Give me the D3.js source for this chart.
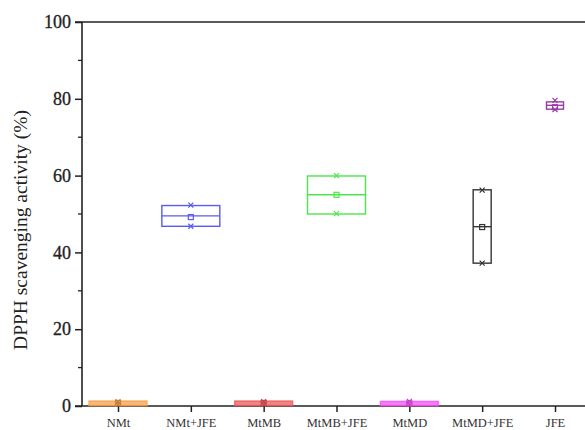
<!DOCTYPE html>
<html><head><meta charset="utf-8">
<script src="https://cdn.jsdelivr.net/npm/d3@7"></script>
<style>html,body{margin:0;padding:0;background:#fff;}svg{display:block;}</style>
</head><body>
<svg id="chart" width="585" height="430"></svg>
<script>
const categories = ["NMt","NMt+JFE","MtMB","MtMB+JFE","MtMD","MtMD+JFE","JFE"];
const q1Values     = [0.1, 46.8, 0.1, 50.0, 0.1, 37.2, 77.3];
const q3Values     = [1.3, 52.2, 1.3, 59.9, 1.2, 56.3, 79.2];
const medianValues = [0.7, 49.5, 0.7, 55.0, 0.6, 46.7, 78.3];
const meanValues   = [0.8, 49.2, 0.8, 55.0, 0.7, 46.6, 77.8];
const minValues    = [0.5, 46.8, 0.5, 50.1, 0.5, 37.2, 77.2];
const maxValues    = [1.1, 52.3, 1.1, 60.0, 1.2, 56.2, 79.6];
const yTicks = [0,20,40,60,80,100];
const yMinorTicks = [10,30,50,70,90];

// styles
const colors = ["#f5a04a","#5a5af5","#ee5a5a","#4ae84a","#f550f5","#333333","#9b3aa8"];
const boxWidths = [58, 58, 58, 58, 58, 18, 17];

const svg = d3.select("#chart");
const x = d3.scalePoint().domain(categories).range([118, 555]);
const y = d3.scaleLinear().domain([0,100]).range([406, 22]);
const left = 82;
const font = "'Liberation Serif', 'Times New Roman', serif";

// frame top
svg.append("line").attr("x1", 75).attr("x2", 600).attr("y1", y(100)).attr("y2", y(100))
  .attr("stroke","#222").attr("stroke-width",1.6);

// y axis
const yAxis = svg.append("g").attr("transform", `translate(${left},0)`)
  .call(d3.axisLeft(y).tickValues(yTicks).tickSize(7).tickPadding(4).tickFormat(d3.format("d")));
yAxis.select(".domain").remove();
yAxis.selectAll(".tick line").attr("stroke","#222").attr("stroke-width",1.5);
yAxis.selectAll(".tick text").attr("font-family",font)
  .attr("font-size",18).attr("fill","#222").attr("stroke","#222").attr("stroke-width",0.3);
svg.append("g").selectAll("line").data(yMinorTicks).join("line")
  .attr("x1", left-4).attr("x2", left).attr("y1", d=>y(d)).attr("y2", d=>y(d))
  .attr("stroke","#222").attr("stroke-width",1.3);
svg.append("line").attr("x1", left).attr("x2", left).attr("y1", y(100)).attr("y2", y(0))
  .attr("stroke","#222").attr("stroke-width",1.6);

// x axis
const xAxis = svg.append("g").attr("transform", `translate(0,${y(0)})`)
  .call(d3.axisBottom(x).tickSize(6).tickPadding(6));
xAxis.select(".domain").remove();
xAxis.selectAll(".tick line").attr("stroke","#222").attr("stroke-width",1.5);
xAxis.selectAll(".tick text").attr("font-family",font)
  .attr("font-size",12.5).attr("fill","#333");
svg.append("line").attr("x1", 75).attr("x2", 600).attr("y1", y(0)).attr("y2", y(0))
  .attr("stroke","#222").attr("stroke-width",1.6);

// y label
svg.append("text").attr("transform", `translate(27,${(y(0)+y(100))/2 + 16}) rotate(-90)`)
  .attr("text-anchor","middle")
  .attr("font-family",font)
  .attr("font-size",19.5).attr("fill","#222")
  .text("DPPH scavenging activity (%)");

// boxes
const data = categories.map((c,i)=>({c, i, q1:q1Values[i], q3:q3Values[i], med:medianValues[i],
  mean:meanValues[i], mn:minValues[i], mx:maxValues[i]}));
const g = svg.append("g");
data.forEach(d=>{
  const cx = x(d.c), w = boxWidths[d.i], col = colors[d.i];
  const small = (d.q3 - d.q1) < 1.5;
  const top = y(d.q3), bot = y(d.q1);
  g.append("rect").attr("x", cx-w/2).attr("y", top).attr("width", w).attr("height", Math.max(bot-top, 1))
    .attr("fill", small ? col : "none").attr("fill-opacity", small ? 0.75 : 0)
    .attr("stroke", col).attr("stroke-width", 1.4).attr("stroke-opacity", small?0.8:1);
  if (!small) {
    g.append("line").attr("x1", cx-w/2).attr("x2", cx+w/2).attr("y1", y(d.med)).attr("y2", y(d.med))
      .attr("stroke", col).attr("stroke-width", 1.4);
  }
  const mc = small ? d3.color(col).darker(0.6) : col;
  [d.mn, d.mx].forEach(v=>{
    const yy = y(v), s = 2.5;
    g.append("path").attr("d", `M${cx-s},${yy-s}L${cx+s},${yy+s}M${cx-s},${yy+s}L${cx+s},${yy-s}`)
      .attr("stroke", mc).attr("stroke-width", 1.2).attr("fill","none");
  });
  g.append("rect").attr("x", cx-2.5).attr("y", y(d.mean)-2.5).attr("width",5).attr("height",5)
    .attr("fill","none").attr("stroke", mc).attr("stroke-width",1.2);
});
</script>
</body></html>
